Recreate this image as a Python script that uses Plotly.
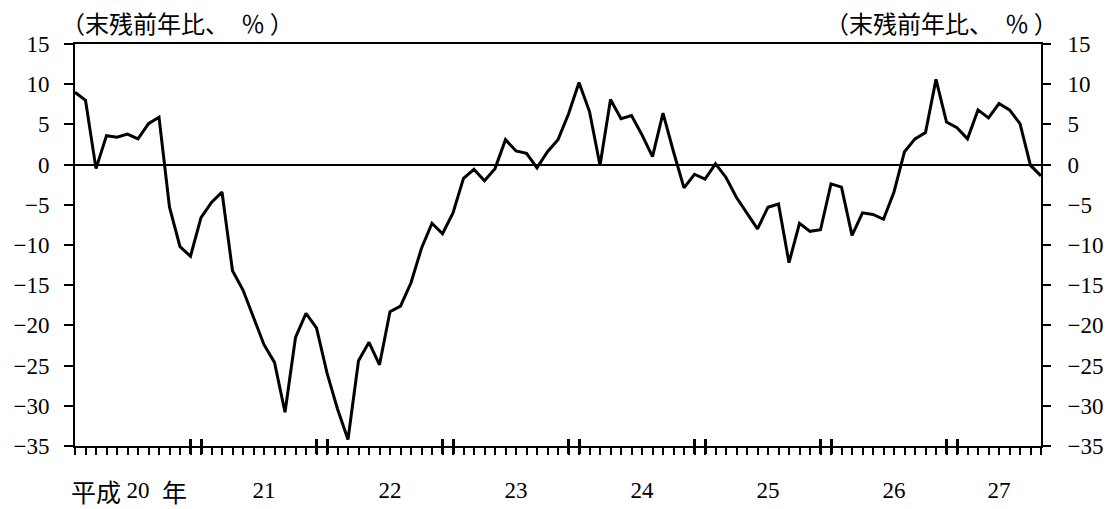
import plotly.graph_objects as go

# 貸出残高の前年比（%）、平成20年1月〜平成27年9月の月次
values = [
    9.0, 8.0, -0.5, 3.6, 3.4, 3.8, 3.2, 5.1, 5.9, -5.3, -10.2, -11.4,      # 平成20年
    -6.6, -4.7, -3.4, -13.2, -15.6, -19.1, -22.4, -24.6, -30.8, -21.5, -18.5, -20.3,  # 21年
    -25.9, -30.4, -34.2, -24.4, -22.1, -24.9, -18.3, -17.6, -14.7, -10.4, -7.3, -8.6,  # 22年
    -6.0, -1.7, -0.6, -2.0, -0.5, 3.1, 1.7, 1.4, -0.4, 1.6, 3.1, 6.3,      # 23年
    10.2, 6.6, -0.1, 8.1, 5.7, 6.1, 3.7, 1.0, 6.4, 1.6, -2.9, -1.2,        # 24年
    -1.8, 0.1, -1.6, -4.1, -6.1, -8.0, -5.3, -4.9, -12.2, -7.3, -8.3, -8.1,  # 25年
    -2.4, -2.8, -8.8, -6.0, -6.2, -6.8, -3.4, 1.6, 3.2, 4.0, 10.6, 5.3,    # 26年
    4.6, 3.2, 6.8, 5.8, 7.6, 6.8, 5.1, -0.1, -1.4,                         # 27年
]

# 年ラベル（平成）とその表示位置（月番号、平成20年1月 = 0）
year_labels = ["20", "21", "22", "23", "24", "25", "26", "27"]
year_label_pos = [6, 18, 30, 42, 54, 66, 78, 88]

# 年の区切り（12月と1月）の目盛り位置
year_break_ticks = [11, 12, 23, 24, 35, 36, 47, 48, 59, 60, 71, 72, 83, 84]

y_ticks = [15, 10, 5, 0, -5, -10, -15, -20, -25, -30, -35]
unit_label = "（末残前年比、\u2002％\u2009）"

months = list(range(len(values)))
last = months[-1]

NUM_FONT = "Liberation Serif, Noto Sans CJK JP"
CJK_FONT = "Noto Sans CJK JP, Liberation Serif"

fig = go.Figure()
fig.add_trace(go.Scatter(
    x=months, y=values, mode="lines",
    line=dict(color="black", width=3),
    hoverinfo="skip", showlegend=False,
))
# 右側の軸と年区切り目盛り用の軸を表示させるための空トレース
fig.add_trace(go.Scatter(x=[], y=[], xaxis="x2", yaxis="y2", showlegend=False))
fig.add_trace(go.Scatter(x=[], y=[], xaxis="x3", yaxis="y", showlegend=False))

fig.update_layout(
    width=1115, height=509,
    margin=dict(l=75, r=74, t=44, b=63, autoexpand=False),
    plot_bgcolor="white", paper_bgcolor="white",
    showlegend=False,
    xaxis=dict(
        automargin=False,
        range=[0, last],
        tickmode="array", tickvals=year_label_pos, ticktext=year_labels,
        ticks="outside", ticklen=7, tickwidth=1.5, tickcolor="black",
        minor=dict(tick0=0, dtick=1, ticks="outside", ticklen=7,
                   tickwidth=1.5, tickcolor="black", showgrid=False),
        ticklabelstandoff=15,
        showline=True, linecolor="black", linewidth=2, mirror=True,
        showgrid=False, zeroline=False,
        tickfont=dict(family=NUM_FONT, size=23, color="black"),
    ),
    xaxis2=dict(
        automargin=False,
        range=[0, last], overlaying="x", anchor="y", side="bottom",
        tickmode="array", tickvals=year_break_ticks,
        ticks="inside", ticklen=7, tickwidth=2.5, tickcolor="black",
        showticklabels=False, showline=False, showgrid=False, zeroline=False,
    ),
    xaxis3=dict(
        automargin=False,
        range=[0, last], overlaying="x", anchor="y", side="bottom",
        tickmode="array", tickvals=year_break_ticks,
        ticks="outside", ticklen=7, tickwidth=2.5, tickcolor="black",
        showticklabels=False, showline=False, showgrid=False, zeroline=False,
    ),
    yaxis=dict(
        automargin=False,
        range=[-35, 15],
        tickmode="array", tickvals=y_ticks,
        ticks="outside", ticklen=9, tickwidth=1.5, tickcolor="black",
        ticklabelstandoff=10,
        showline=True, linecolor="black", linewidth=2,
        showgrid=False,
        zeroline=True, zerolinecolor="black", zerolinewidth=1.5,
        tickfont=dict(family=NUM_FONT, size=23, color="black"),
    ),
    yaxis2=dict(
        automargin=False,
        range=[-35, 15], overlaying="y", anchor="x", side="right",
        tickmode="array", tickvals=y_ticks,
        ticks="outside", ticklen=8, tickwidth=1.5, tickcolor="black",
        ticklabelstandoff=12,
        showline=True, linecolor="black", linewidth=2,
        showgrid=False, zeroline=False,
        tickfont=dict(family=NUM_FONT, size=23, color="black"),
    ),
)

# 単位ラベル（左右）
fig.add_annotation(text=unit_label, xref="paper", yref="paper", x=0, y=1,
                   xanchor="left", yanchor="middle", xshift=-16, yshift=22,
                   showarrow=False, font=dict(family=CJK_FONT, size=24, color="black"))
fig.add_annotation(text=unit_label, xref="paper", yref="paper", x=1, y=1,
                   xanchor="right", yanchor="middle", xshift=19, yshift=22,
                   showarrow=False, font=dict(family=CJK_FONT, size=24, color="black"))

# 最初の年ラベルの「平成」「年」
fig.add_annotation(text="平成", xref="x", yref="paper", x=year_label_pos[0], y=0,
                   xanchor="right", yanchor="middle", xshift=-15, yshift=-45,
                   showarrow=False, font=dict(family=CJK_FONT, size=25, color="black"))
fig.add_annotation(text="年", xref="x", yref="paper", x=year_label_pos[0], y=0,
                   xanchor="left", yanchor="middle", xshift=22, yshift=-45,
                   showarrow=False, font=dict(family=CJK_FONT, size=25, color="black"))

fig.write_html("out.html")
